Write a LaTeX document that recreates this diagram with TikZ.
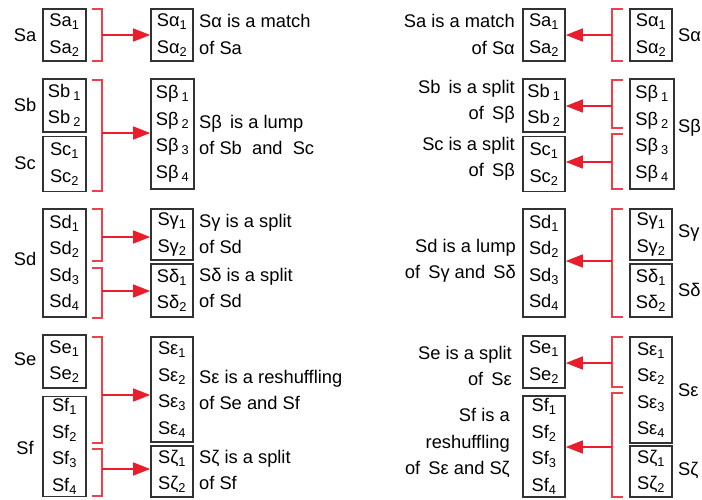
\documentclass[tikz,border=0pt]{standalone}
\usepackage{fontspec}
\setmainfont{Liberation Sans}
\usetikzlibrary{arrows.meta}
\definecolor{boxc}{RGB}{50,50,50}
\definecolor{redc}{RGB}{232,30,45}
\definecolor{brkc}{RGB}{236,64,76}
\newcommand\sbs[1]{\textsubscript{#1}}
\begin{document}
\begin{tikzpicture}[x=1pt,y=-1pt,
  font=\fontsize{18.3}{26.5}\selectfont,
  box/.style={draw=boxc, line width=1.6pt, minimum width=43, inner sep=0pt, align=center},
  lbl/.style={inner sep=0pt},
  descl/.style={inner sep=0pt, align=left, anchor=west},
  descr/.style={inner sep=0pt, align=right, anchor=east},
  brk/.style={draw=brkc, line width=1.3pt},
  arr/.style={draw=redc, line width=1.4pt, -{Triangle[length=17pt,width=13pt]}}]
\useasboundingbox (0,0) rectangle (702,499);

% ---------------- left half: sources ----------------
\node[box, minimum height=52]  (sa) at (64.5,35)    {Sa\sbs1\\Sa\sbs2};
\node[box, minimum height=53]  (sb) at (64.5,105.5) {Sb\,\sbs1\\Sb\,\sbs2};
\node[box, minimum height=55]  (sc) at (64.5,164)   {Sc\sbs1\\Sc\sbs2};
\node[box, minimum height=108] (sd) at (64.5,263)   {Sd\sbs1\\Sd\sbs2\\Sd\sbs3\\Sd\sbs4};
\node[box, minimum height=53]  (se) at (64.5,361.5) {Se\sbs1\\Se\sbs2};
\node[box, minimum height=100] (sf) at (64.5,446.5) {Sf\sbs1\\Sf\sbs2\\Sf\sbs3\\Sf\sbs4};

\node[lbl] (lsa) at (25,35)  {Sa};
\node[lbl] (lsb) at (25,105) {Sb};
\node[lbl] (lsc) at (25,163) {Sc};
\node[lbl] (lsd) at (25,259) {Sd};
\node[lbl] (lse) at (25,359) {Se};
\node[lbl] (lsf) at (25,448) {Sf};

% ---------------- left half: targets ----------------
\node[box, minimum width=42, minimum height=52]  (sal) at (172,35)    {Sα\sbs1\\Sα\sbs2};
\node[box, minimum height=110] (sbe) at (172.5,134) {Sβ\,\sbs1\\Sβ\,\sbs2\\Sβ\,\sbs3\\Sβ\,\sbs4};
\node[box, minimum width=42, minimum height=51]  (sga) at (172,234.5) {Sγ\sbs1\\Sγ\sbs2};
\node[box, minimum width=42, minimum height=53]  (sde) at (172,290.5) {Sδ\sbs1\\Sδ\sbs2};
\node[box, minimum width=42, minimum height=105] (sep) at (172,389.5) {Sε\sbs1\\Sε\sbs2\\Sε\sbs3\\Sε\sbs4};
\node[box, minimum width=42, minimum height=51]  (sze) at (172,471.5) {Sζ\sbs1\\Sζ\sbs2};

\node[descl] (dal) at (199,34.5) {Sα is a match\\of Sa};
\node[descl] (dbe) at (199,135)  {Sβ\, is a lump\\of Sb~ and~ Sc};
\node[descl] (dga) at (199,234)  {Sγ is a split\\of Sd};
\node[descl] (dde) at (199,288)  {Sδ is a split\\of Sd};
\node[descl] (dep) at (199,390)  {Sε is a reshuffling\\of Se and Sf};
\node[descl] (dze) at (199,470)  {Sζ is a split\\of Sf};

% brackets and arrows (left)
\draw[brk] (92,9) -- (102,9) -- (102,61) -- (92,61);
\coordinate (l1) at (102,35);
\draw[arr] (l1) -- (l1 -| sal.west);

\draw[brk] (92,80) -- (102,80) -- (102,191) -- (92,191);
\coordinate (l2) at (102,133);
\draw[arr] (l2) -- (l2 -| sbe.west);

\draw[brk] (92,209) -- (102,209) -- (102,261) -- (92,261);
\coordinate (l3) at (102,237);
\draw[arr] (l3) -- (l3 -| sga.west);

\draw[brk] (92,268) -- (102,268) -- (102,318) -- (92,318);
\coordinate (l4) at (102,291);
\draw[arr] (l4) -- (l4 -| sde.west);

\draw[brk] (92,337) -- (102,337) -- (102,443) -- (92,443);
\coordinate (l5) at (102,395);
\draw[arr] (l5) -- (l5 -| sep.west);

\draw[brk] (92,449) -- (102,449) -- (102,496) -- (92,496);
\coordinate (l6) at (102,469);
\draw[arr] (l6) -- (l6 -| sze.west);

% ---------------- right half: targets (Latin) ----------------
\node[box, minimum width=42, minimum height=52]  (ra) at (544,35)    {Sa\sbs1\\Sa\sbs2};
\node[box, minimum width=42, minimum height=53]  (rb) at (544,105.5) {Sb\,\sbs1\\Sb\,\sbs2};
\node[box, minimum width=42, minimum height=55]  (rc) at (544,164)   {Sc\sbs1\\Sc\sbs2};
\node[box, minimum width=42, minimum height=108] (rd) at (544,263)   {Sd\sbs1\\Sd\sbs2\\Sd\sbs3\\Sd\sbs4};
\node[box, minimum width=42, minimum height=52]  (re) at (544,362)   {Se\sbs1\\Se\sbs2};
\node[box, minimum width=42, minimum height=101] (rf) at (544,446.5) {Sf\sbs1\\Sf\sbs2\\Sf\sbs3\\Sf\sbs4};

\node[descr] (ea) at (515,34.5) {Sa is a match\\of Sα};
\node[descr] (eb) at (515,102)  {Sb\, is a split\\of\, Sβ};
\node[descr] (ec) at (515,159)  {Sc is a split\\of\, Sβ};
\node[descr] (ed) at (516,261)  {Sd is a lump\\of\, Sγ and\, Sδ};
\node[descr] (ee) at (512,366)  {Se is a split\\of\, Sε};
\node[descr] (ef) at (510,443)  {Sf is a\\reshuffling\\of\, Sε and Sζ};

% ---------------- right half: sources (Greek) ----------------
\node[box, minimum width=42, minimum height=52]  (ral) at (651,35)    {Sα\sbs1\\Sα\sbs2};
\node[box, minimum width=44, minimum height=110] (rbe) at (652,134)   {Sβ\,\sbs1\\Sβ\,\sbs2\\Sβ\,\sbs3\\Sβ\,\sbs4};
\node[box, minimum width=42, minimum height=51]  (rga) at (651,234.5) {Sγ\sbs1\\Sγ\sbs2};
\node[box, minimum width=42, minimum height=53]  (rde) at (651,290.5) {Sδ\sbs1\\Sδ\sbs2};
\node[box, minimum width=42, minimum height=106] (rep) at (651,390)   {Sε\sbs1\\Sε\sbs2\\Sε\sbs3\\Sε\sbs4};
\node[box, minimum width=42, minimum height=51]  (rze) at (651,471.5) {Sζ\sbs1\\Sζ\sbs2};

\node[lbl, anchor=west] (mal) at (678,35)  {Sα};
\node[lbl, anchor=west] (mbe) at (678,128) {Sβ};
\node[lbl, anchor=west] (mga) at (678,233) {Sγ};
\node[lbl, anchor=west] (mde) at (678,290) {Sδ};
\node[lbl, anchor=west] (mep) at (678,390) {Sε};
\node[lbl, anchor=west] (mze) at (678,470) {Sζ};

% brackets and arrows (right)
\draw[brk] (623,9) -- (612,9) -- (612,61) -- (623,61);
\coordinate (r1) at (612,35);
\draw[arr] (r1) -- (r1 -| ra.east);

\draw[brk] (623,80) -- (612,80) -- (612,128) -- (623,128);
\coordinate (r2) at (612,106);
\draw[arr] (r2) -- (r2 -| rb.east);

\draw[brk] (623,134) -- (612,134) -- (612,189) -- (623,189);
\coordinate (r3) at (612,162);
\draw[arr] (r3) -- (r3 -| rc.east);

\draw[brk] (623,209) -- (612,209) -- (612,317) -- (623,317);
\coordinate (r4) at (612,261);
\draw[arr] (r4) -- (r4 -| rd.east);

\draw[brk] (623,337) -- (612,337) -- (612,387) -- (623,387);
\coordinate (r5) at (612,363);
\draw[arr] (r5) -- (r5 -| re.east);

\draw[brk] (623,393) -- (612,393) -- (612,497) -- (623,497);
\coordinate (r6) at (612,447);
\draw[arr] (r6) -- (r6 -| rf.east);
\end{tikzpicture}
\end{document}
